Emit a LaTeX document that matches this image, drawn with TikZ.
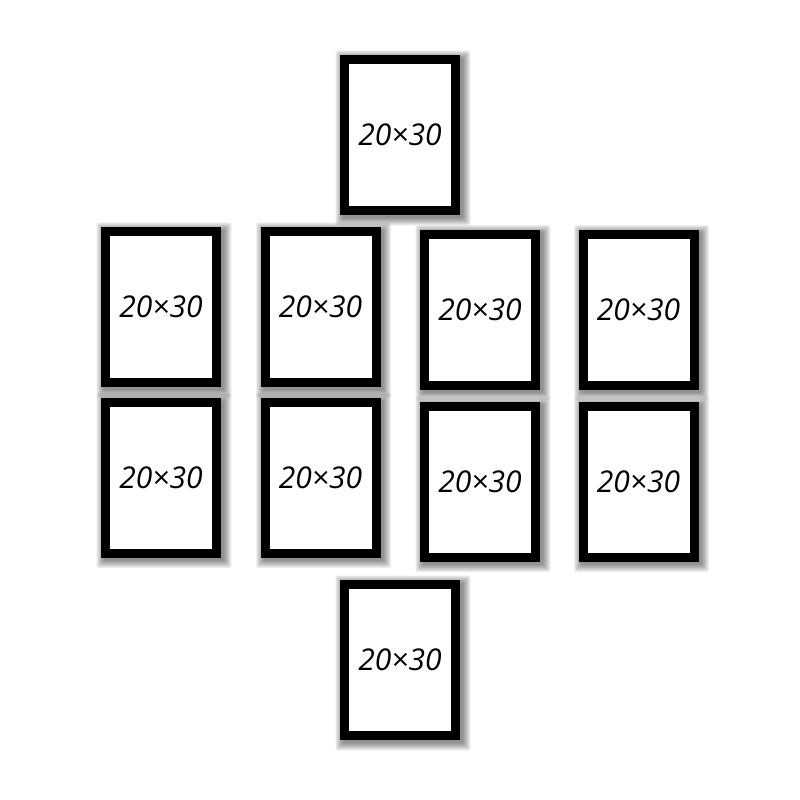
\documentclass[tikz,border=0pt]{standalone}
\usepackage{fontspec}
\setmainfont{Open Sans}
\begin{document}
\begin{tikzpicture}[x=1pt,y=-1pt,
  frame/.style={draw=black, line width=9pt, fill=white, minimum width=111pt, minimum height=151pt, inner sep=0pt,
    font=\fontsize{30}{34}\selectfont\itshape},
  shadowlayer/.style={fill=black, fill opacity=0.045, draw=none, rounded corners=2pt}]
\useasboundingbox[fill=white] (0,0) rectangle (800,800);
\foreach \n/\cx/\cy in {top/400/135, a1/161/307, a2/320.5/307, a3/480/309.5, a4/638.5/309.5,
    b1/161/477.5, b2/320.5/477.5, b3/480/481.5, b4/638.5/481.5, bot/400/660}{
  \foreach \k in {0,0.7,...,7.7}{
    \fill[shadowlayer] (\cx+3-60-\k, \cy+3-80-\k) rectangle (\cx+3+60+\k, \cy+3+80+\k);
  }
}
\foreach \n/\cx/\cy in {top/400/135, a1/161/307, a2/320.5/307, a3/480/309.5, a4/638.5/309.5,
    b1/161/477.5, b2/320.5/477.5, b3/480/481.5, b4/638.5/481.5, bot/400/660}{
  \node[frame] (\n) at (\cx,\cy) {20×30};
}
\end{tikzpicture}
\end{document}
